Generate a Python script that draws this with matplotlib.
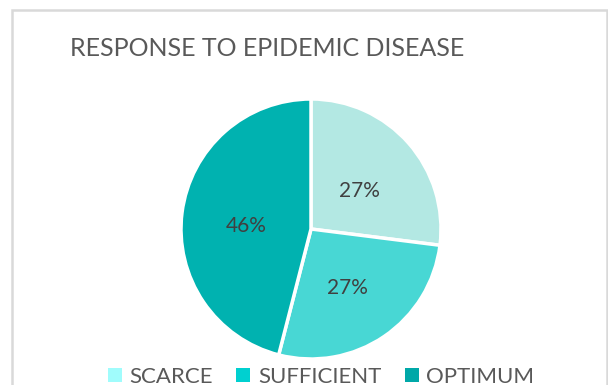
import matplotlib
matplotlib.use("Agg")
import matplotlib.pyplot as plt
from matplotlib.patches import Rectangle, Patch
from matplotlib.transforms import ScaledTranslation

plt.rcParams['font.family'] = ['Lato', 'DejaVu Sans']

categories = ["SCARCE", "SUFFICIENT", "OPTIMUM"]
values = [27, 27, 46]
slice_colors = ["#b3e8e3", "#48d7d4", "#00b2b0"]
legend_colors = ["#a0fcfc", "#00d0d0", "#00a8a8"]
title = "RESPONSE TO EPIDEMIC DISEASE"

W, H = 608, 385
fig = plt.figure(figsize=(W / 100, H / 100), dpi=100)
fig.patch.set_facecolor("white")

# chart frame (cut off at the bottom)
fig.add_artist(Rectangle((12 / W, -0.1), (607 - 12) / W, 1.1 - 10 / H,
                         transform=fig.transFigure, fill=False,
                         edgecolor="#d9d9d9", linewidth=1.8))

# pie axes: centre (311, 229) px from top-left, radius ~129 px
r = 130
cx, cy = 311, H - 229
ax = fig.add_axes([(cx - r) / W, (cy - r) / H, 2 * r / W, 2 * r / H])
wedges, texts, autotexts = ax.pie(
    values, colors=slice_colors, startangle=90, counterclock=False,
    autopct=lambda p: "%d%%" % round(p), pctdistance=0.5,
    wedgeprops=dict(edgecolor="white", linewidth=2.5),
    textprops=dict(color="#404040", fontsize=15))
for t in autotexts:
    t.set_transform(t.get_transform() + ScaledTranslation(0, -0.05, fig.dpi_scale_trans))
ax.set_xlim(-1.0, 1.0)
ax.set_ylim(-1.0, 1.0)
ax.axis("off")

ttl = fig.text(267 / W, 1 - 49 / H, title, ha="center", va="center",
               fontsize=25, color="#595959")

# fit the title to the reference width (~395 px)
fig.canvas.draw()
w = ttl.get_window_extent().width
ttl.set_fontsize(25 * 395 / w)

handles = [Patch(facecolor=c, edgecolor="none") for c in legend_colors]
fig.legend(handles, categories, loc="center", bbox_to_anchor=(321 / W, 1 - 377 / H),
           ncol=3, frameon=False, fontsize=16, labelcolor="#595959",
           handlelength=0.63, handleheight=0.63, handletextpad=0.35,
           columnspacing=1.05, borderpad=0)

fig.savefig("out.png", dpi=100)
